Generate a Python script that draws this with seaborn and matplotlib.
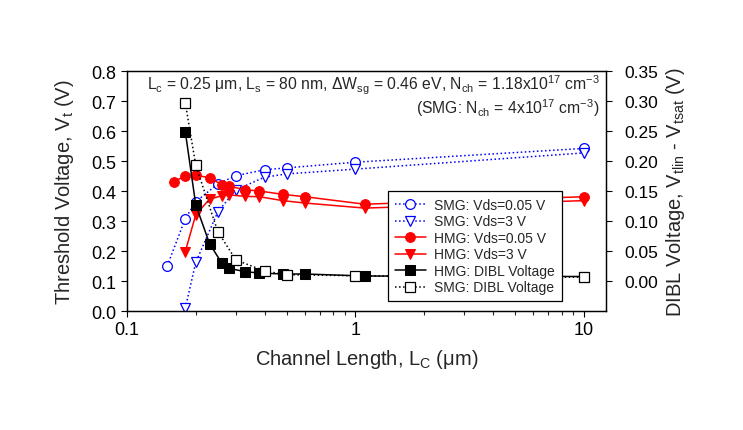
import numpy as np
import pandas as pd
import seaborn as sns
import matplotlib
matplotlib.use("Agg")
import matplotlib.pyplot as plt
from matplotlib.ticker import FixedLocator, LogLocator, NullFormatter, FuncFormatter

sns.set_style("ticks")
plt.rcParams['font.family'] = ['Liberation Sans', 'DejaVu Sans']
plt.rcParams['mathtext.fontset'] = 'custom'
plt.rcParams['mathtext.rm'] = 'Liberation Sans'
plt.rcParams['mathtext.it'] = 'Liberation Sans'
plt.rcParams['mathtext.default'] = 'regular'

## channel length (um) for each series
L_smg = [0.15, 0.18, 0.2, 0.25, 0.3, 0.4, 0.5, 1.0, 10.0]
L_smg3 = [0.18, 0.2, 0.25, 0.3, 0.4, 0.5, 1.0, 10.0]
L_hmg = [0.16, 0.18, 0.2, 0.23, 0.26, 0.28, 0.33, 0.38, 0.48, 0.6, 1.1, 10.0]
L_hmg3 = [0.18, 0.2, 0.23, 0.26, 0.28, 0.33, 0.38, 0.48, 0.6, 1.1, 10.0]
L_smg_dibl = [0.18, 0.2, 0.25, 0.3, 0.4, 0.5, 1.0, 10.0]

## threshold voltage (V)
vt_smg_lin = [0.15, 0.308, 0.364, 0.424, 0.451, 0.471, 0.477, 0.496, 0.542]
vt_smg_sat = [0.009, 0.162, 0.331, 0.404, 0.446, 0.457, 0.473, 0.527]
vt_hmg_lin = [0.43, 0.451, 0.453, 0.444, 0.421, 0.416, 0.404, 0.40, 0.389, 0.381, 0.356, 0.381]
vt_hmg_sat = [0.198, 0.321, 0.373, 0.384, 0.387, 0.382, 0.381, 0.368, 0.36, 0.343, 0.368]

## DIBL (V)
dibl_hmg = [0.249, 0.127, 0.062, 0.030, 0.021, 0.0155, 0.0133, 0.0117, 0.0117, 0.0083, 0.0075]
dibl_smg = [0.297, 0.193, 0.082, 0.035, 0.0167, 0.0105, 0.0088, 0.0063]

fig = plt.figure(figsize=(7.43, 4.31), dpi=100)
ax = fig.add_axes([0.1709, 0.2761, 0.6447, 0.5568])
ax2 = ax.twinx()

blue = '#0000ff'
red = '#ff0000'

sns.lineplot(x=L_smg, y=vt_smg_lin, ax=ax, color=blue, linestyle=':', linewidth=1.1,
             marker='o', markersize=7, markerfacecolor='white', markeredgecolor=blue,
             markeredgewidth=0.9, label='SMG: Vds=0.05 V', sort=False)
sns.lineplot(x=L_smg3, y=vt_smg_sat, ax=ax, color=blue, linestyle=':', linewidth=1.1,
             marker='v', markersize=7, markerfacecolor='white', markeredgecolor=blue,
             markeredgewidth=0.9, label='SMG: Vds=3 V', sort=False)
sns.lineplot(x=L_hmg, y=vt_hmg_lin, ax=ax, color=red, linestyle='-', linewidth=1.1,
             marker='o', markersize=7, markerfacecolor=red, markeredgecolor=red,
             label='HMG: Vds=0.05 V', sort=False)
sns.lineplot(x=L_hmg3, y=vt_hmg_sat, ax=ax, color=red, linestyle='-', linewidth=1.1,
             marker='v', markersize=7, markerfacecolor=red, markeredgecolor=red,
             label='HMG: Vds=3 V', sort=False)

sns.lineplot(x=L_hmg[1:], y=dibl_hmg, ax=ax2, color='black', linestyle='-', linewidth=1.1,
             marker='s', markersize=6.5, markerfacecolor='black', markeredgecolor='black',
             label='HMG: DIBL Voltage', sort=False)
sns.lineplot(x=L_smg_dibl, y=dibl_smg, ax=ax2, color='black', linestyle=':', linewidth=1.1,
             marker='s', markersize=6.5, markerfacecolor='white', markeredgecolor='black',
             markeredgewidth=0.9, label='SMG: DIBL Voltage', sort=False)

ax.set_xscale('log')
ax.set_xlim(0.1, 12.5)
ax.set_ylim(0, 0.8)
ax2.set_ylim(-0.05, 0.35)

ax.yaxis.set_major_locator(FixedLocator(np.arange(0, 0.81, 0.1)))
ax.yaxis.set_major_formatter(FuncFormatter(lambda v, p: f'{v:.1f}'))
ax2.yaxis.set_major_locator(FixedLocator(np.arange(0, 0.351, 0.05)))
ax2.yaxis.set_major_formatter(FuncFormatter(lambda v, p: f'{v:.2f}'))
ax.xaxis.set_major_locator(FixedLocator([0.1, 1, 10]))
ax.xaxis.set_major_formatter(FuncFormatter(lambda v, p: f'{v:g}'))
ax.xaxis.set_minor_locator(LogLocator(base=10, subs=np.arange(2, 10)))
ax.xaxis.set_minor_formatter(NullFormatter())

ax.tick_params(axis='both', which='major', direction='out', length=4, width=0.8,
               labelsize=13, colors='black')
ax.tick_params(axis='x', which='minor', direction='out', length=3, width=0.8)
ax2.tick_params(axis='y', which='major', direction='out', length=4, width=0.8,
                labelsize=12.5, colors='black', pad=9)

for a in (ax, ax2):
    for s in a.spines.values():
        s.set_linewidth(0.9)
        s.set_color('black')

ax.set_xlabel('Channel Length, L$_{C}$ (μm)', fontsize=14.5, labelpad=6)
ax.set_ylabel('Threshold Voltage, V$_{t}$ (V)', fontsize=14.5, labelpad=11)
ax2.set_ylabel('DIBL Voltage, V$_{tlin}$ - V$_{tsat}$ (V)', fontsize=14.5, labelpad=4)

ax.text(0.987, 0.945,
        'L$_{c}$ = 0.25 μm, L$_{s}$ = 80 nm, ΔW$_{sg}$ = 0.46 eV, N$_{ch}$ = 1.18x10$^{17}$ cm$^{-3}$',
        transform=ax.transAxes, ha='right', va='center', fontsize=11.3)
ax.text(0.987, 0.85, '(SMG: N$_{ch}$ = 4x10$^{17}$ cm$^{-3}$)',
        transform=ax.transAxes, ha='right', va='center', fontsize=11.3)

h1, l1 = ax.get_legend_handles_labels()
h2, l2 = ax2.get_legend_handles_labels()
if ax.get_legend() is not None:
    ax.get_legend().remove()
if ax2.get_legend() is not None:
    ax2.get_legend().remove()
leg = ax2.legend(h1 + h2, l1 + l2, loc='upper left', bbox_to_anchor=(0.545, 0.5),
                 fontsize=10, frameon=True, fancybox=False, framealpha=1,
                 edgecolor='black', handlelength=2.2, labelspacing=0.18, borderpad=0.5,
                 handletextpad=0.6, borderaxespad=0)
leg.get_frame().set_linewidth(0.9)

fig.savefig('out.png', dpi=100)
